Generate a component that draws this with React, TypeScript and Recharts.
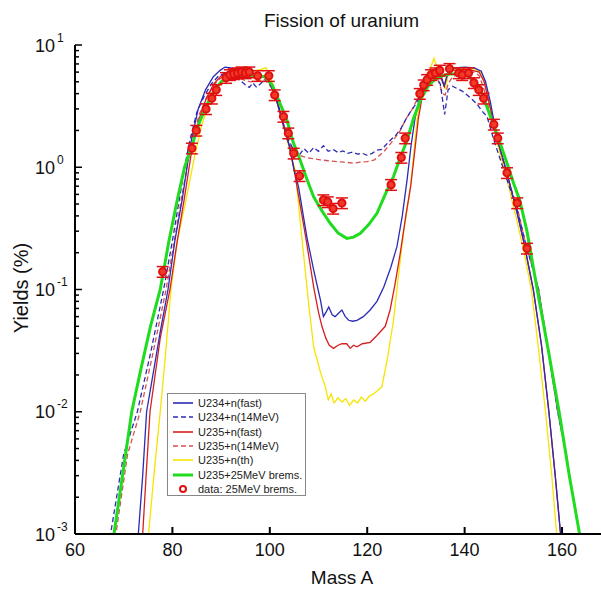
import React from 'react';
import { ComposedChart, Line, Scatter, XAxis, YAxis, ErrorBar } from 'recharts';

const FONT = '"Liberation Sans", Arial, Helvetica, sans-serif';

// ---- curves: [mass A, yield %] ----
const u234Fast: [number, number][] = [
  [72.6,0.0008],[73.0,0.001],[73.9,0.003],[74.7,0.01],[76.0,0.02],[77.5,0.045],[79.1,0.1],[80.5,0.25],[82.0,0.54],[83.0,1.0],[83.8,1.6],[85.3,3.0],[86.8,4.3],[88.4,5.5],[89.8,6.2],[90.8,6.6],[92.0,6.5],[93.5,6.2],[95.0,6.0],[96.5,5.9],[98.0,5.7],[99.5,5.3],[100.5,4.4],[101.5,3.4],[102.5,2.5],[104.0,1.5],[105.0,0.95],[105.9,0.69],[107.6,0.27],[109.0,0.145],[110.4,0.082],[111.0,0.06],[111.6,0.066],[112.1,0.072],[112.8,0.062],[113.4,0.06],[114.1,0.064],[114.8,0.068],[115.5,0.06],[116.2,0.056],[117.0,0.055],[117.9,0.056],[119.2,0.06],[120.6,0.068],[122.0,0.08],[123.4,0.105],[124.8,0.15],[126.1,0.224],[127.2,0.4],[128.2,0.8],[129.0,1.5],[129.8,2.5],[130.7,3.6],[131.9,5.0],[133.0,5.8],[134.0,6.2],[135.0,5.9],[135.8,4.6],[136.6,6.0],[138.0,6.5],[140.0,6.6],[142.0,6.5],[143.4,6.1],[144.3,5.0],[145.3,3.4],[146.7,1.7],[148.7,0.9],[150.8,0.42],[152.1,0.25],[154.1,0.1],[155.8,0.035],[157.3,0.01],[158.6,0.003],[159.7,0.001],[160.0,0.0008],
];
const u234Mev14: [number, number][] = [
  [67.0,0.0008],[67.3,0.001],[70.0,0.0045],[72.8,0.01],[75.5,0.03],[78.2,0.1],[80.0,0.25],[81.4,0.54],[82.5,1.0],[83.5,1.6],[85.0,2.8],[86.5,3.8],[88.0,4.8],[89.5,5.6],[91.0,5.9],[92.5,5.7],[94.0,5.1],[95.0,4.7],[95.8,4.5],[96.5,4.9],[97.3,4.5],[98.5,5.0],[99.5,5.3],[100.5,4.5],[101.5,3.5],[102.5,2.5],[103.5,1.8],[105.0,1.35],[106.0,1.25],[107.0,1.42],[108.0,1.3],[109.0,1.45],[110.0,1.35],[111.0,1.5],[112.0,1.35],[113.0,1.4],[114.0,1.32],[115.0,1.36],[116.0,1.3],[117.0,1.33],[118.0,1.28],[119.0,1.3],[120.0,1.25],[121.0,1.3],[122.0,1.38],[123.0,1.4],[124.0,1.55],[125.0,1.7],[126.0,1.85],[127.0,2.1],[128.0,2.5],[129.0,2.9],[130.0,3.3],[131.0,4.0],[132.0,4.8],[133.0,5.4],[134.0,5.6],[135.0,4.8],[135.9,2.7],[136.6,4.3],[137.5,4.6],[138.5,4.4],[139.5,4.2],[140.5,3.9],[141.5,3.6],[142.5,3.3],[143.5,2.9],[144.6,2.6],[146.0,1.67],[148.7,0.79],[150.8,0.45],[152.5,0.24],[155.2,0.1],[157.0,0.035],[159.1,0.01],[160.2,0.006],[161.1,0.004],
];
const u235Fast: [number, number][] = [
  [73.6,0.0008],[73.9,0.001],[74.6,0.003],[75.4,0.01],[77.5,0.04],[79.5,0.1],[81.0,0.25],[82.4,0.54],[84.0,1.4],[85.5,2.5],[87.0,3.7],[88.5,4.8],[90.0,5.6],[92.0,5.9],[94.0,5.9],[96.0,5.8],[98.0,5.6],[99.5,5.3],[100.5,4.4],[101.5,3.4],[102.5,2.4],[104.0,1.5],[105.2,0.85],[106.2,0.5],[107.5,0.25],[109.0,0.105],[110.0,0.065],[110.7,0.05],[111.5,0.04],[112.2,0.035],[113.1,0.033],[114.0,0.035],[114.8,0.036],[115.8,0.036],[116.5,0.033],[117.2,0.035],[117.9,0.034],[119.0,0.036],[120.6,0.037],[122.0,0.042],[123.7,0.05],[124.7,0.068],[125.7,0.11],[126.8,0.2],[128.0,0.42],[128.9,0.69],[129.8,1.4],[130.5,2.5],[131.3,3.8],[132.0,4.8],[133.0,5.5],[134.0,5.8],[135.0,5.6],[135.8,4.6],[136.5,5.8],[137.5,6.2],[139.0,6.3],[141.0,6.3],[143.0,6.0],[144.0,5.0],[145.0,3.4],[146.7,1.7],[148.7,0.9],[150.8,0.42],[152.1,0.25],[154.1,0.1],[155.8,0.034],[157.3,0.01],[158.6,0.003],[159.7,0.001],[160.0,0.0008],
];
const u235Mev14: [number, number][] = [
  [68.0,0.0008],[68.4,0.001],[70.8,0.0045],[73.4,0.01],[76.0,0.03],[78.7,0.1],[80.4,0.25],[81.8,0.54],[83.0,1.0],[84.0,1.6],[85.5,2.7],[87.0,3.7],[88.5,4.7],[90.0,5.4],[91.5,5.7],[93.0,5.6],[94.5,5.2],[96.0,5.0],[97.5,5.1],[99.0,5.2],[100.5,4.4],[101.5,3.4],[102.5,2.4],[103.5,1.7],[105.0,1.3],[106.9,1.22],[108.5,1.18],[110.4,1.15],[112.0,1.13],[113.8,1.11],[115.5,1.1],[117.2,1.08],[118.5,1.1],[120.0,1.11],[121.5,1.15],[123.4,1.34],[125.0,1.6],[126.8,2.0],[128.0,2.5],[129.5,3.1],[130.5,3.8],[131.5,4.6],[132.5,5.2],[133.5,5.6],[134.5,5.2],[135.5,4.0],[136.0,3.9],[136.6,4.8],[137.5,5.5],[139.0,5.8],[140.5,5.9],[142.0,6.0],[143.0,5.6],[144.0,4.3],[145.0,3.0],[146.5,1.8],[148.7,0.85],[150.8,0.47],[152.5,0.24],[155.2,0.1],[157.0,0.035],[159.1,0.01],[160.2,0.006],[161.1,0.004],
];
const u235Thermal: [number, number][] = [
  [74.9,0.0008],[75.1,0.001],[76.2,0.003],[77.5,0.01],[78.6,0.03],[79.7,0.1],[81.0,0.25],[82.8,0.54],[84.5,1.2],[86.0,2.2],[87.5,3.3],[89.0,4.4],[90.5,5.2],[92.0,5.6],[94.0,5.8],[96.0,6.0],[98.0,6.3],[99.2,6.5],[100.3,5.2],[101.3,3.9],[102.3,2.7],[103.5,1.7],[104.5,1.2],[105.2,0.95],[106.0,0.45],[106.9,0.2],[108.0,0.075],[109.0,0.034],[110.4,0.021],[111.4,0.016],[112.0,0.0125],[112.6,0.014],[113.2,0.0118],[114.0,0.013],[114.8,0.012],[115.6,0.0128],[116.4,0.0113],[117.2,0.0125],[118.0,0.0118],[118.8,0.0132],[119.6,0.0122],[120.5,0.0135],[121.3,0.014],[122.2,0.015],[123.0,0.016],[124.2,0.028],[125.4,0.056],[126.5,0.14],[127.5,0.3],[128.9,0.69],[130.2,2.4],[131.0,3.6],[132.0,5.0],[133.0,6.5],[133.7,7.8],[134.5,6.3],[135.3,5.2],[136.0,4.4],[136.7,5.8],[138.0,6.4],[140.0,6.5],[142.0,6.4],[143.5,5.9],[144.6,4.3],[145.5,2.8],[146.5,1.7],[148.5,0.85],[150.5,0.4],[152.0,0.22],[153.7,0.1],[155.2,0.032],[156.6,0.01],[157.9,0.003],[158.9,0.001],[159.2,0.0008],
];
const u235Brems: [number, number][] = [
  [67.7,0.0008],[68.0,0.001],[70.0,0.0035],[71.65,0.01],[73.5,0.022],[75.5,0.05],[77.5,0.1],[79.3,0.25],[81.0,0.54],[82.5,1.0],[84.0,1.5],[85.5,2.3],[87.0,3.2],[88.5,4.2],[90.0,5.0],[91.5,5.5],[93.0,5.6],[95.0,5.7],[97.0,5.6],[99.0,5.5],[100.5,4.7],[102.0,3.4],[103.5,2.44],[104.8,1.6],[106.2,1.15],[107.6,0.8],[109.0,0.574],[110.7,0.44],[112.4,0.348],[114.0,0.29],[115.8,0.262],[117.2,0.268],[118.6,0.288],[120.3,0.34],[122.0,0.42],[123.7,0.6],[125.4,0.84],[126.8,1.2],[128.2,1.67],[129.5,2.5],[131.0,3.6],[132.5,4.6],[134.0,5.3],[135.5,5.6],[137.0,5.8],[139.0,5.8],[141.0,5.5],[143.0,4.6],[145.3,2.6],[147.0,1.7],[148.7,1.08],[150.0,0.75],[151.3,0.54],[152.8,0.3],[154.9,0.1],[157.3,0.03],[159.4,0.01],[161.5,0.003],[163.6,0.001],[163.9,0.0008],
];

// ---- measured data (25 MeV brems.) ----
const dataMass = [78.0,84.0,84.9,86.9,88.1,89.0,91.0,91.8,92.6,93.4,94.2,95.0,95.8,97.5,99.8,101.0,102.8,103.8,104.9,106.1,111.0,111.9,113.0,114.8,124.9,127.0,127.8,130.8,131.6,132.3,133.1,134.0,134.9,136.9,138.8,139.5,140.8,141.9,142.9,143.9,146.0,146.8,148.7,150.8,152.8];
const dataYield = [0.14,1.43,2.0,3.0,3.66,4.3,5.4,5.7,5.8,5.9,6.0,5.9,6.0,5.6,5.6,3.9,2.6,1.9,1.3,0.85,0.54,0.52,0.46,0.51,0.72,1.2,1.73,4.0,4.7,5.2,5.7,5.9,6.2,6.4,5.9,5.7,5.9,4.9,4.3,3.66,2.24,1.73,0.9,0.51,0.217];
const dataRelErr = 0.1;

// ---- axes ----
const xTicks = [60, 80, 100, 120, 140, 160];
const xTopTicks = [80, 100, 120, 140, 160];
const decades = [0.001, 0.01, 0.1, 1];
const yTicks = [...decades.flatMap((d) => [1, 2, 3, 4, 5, 6, 7, 8, 9].map((m) => +(m * d).toPrecision(3))), 10];

const SERIES = [
  { name: 'U234+n(fast)', pts: u234Fast, color: '#2b2bb5', dash: undefined as string | undefined, width: 1.3 },
  { name: 'U234+n(14MeV)', pts: u234Mev14, color: '#2b2bb5', dash: '5 3', width: 1.3 },
  { name: 'U235+n(fast)', pts: u235Fast, color: '#d42020', dash: undefined, width: 1.3 },
  { name: 'U235+n(14MeV)', pts: u235Mev14, color: '#d85050', dash: '5 3', width: 1.3 },
  { name: 'U235+n(th)', pts: u235Thermal, color: '#f7e400', dash: undefined, width: 1.3 },
  { name: 'U235+25MeV brems.', pts: u235Brems, color: '#1fdc1f', dash: undefined, width: 3 },
];
const DRAW_ORDER = [4, 3, 2, 1, 0, 5];

const toPts = (arr: [number, number][]) => arr.map(([a, y]) => ({ a, y }));
const dataPts = dataMass.map((a, i) => ({ a, y: dataYield[i], err: dataYield[i] * dataRelErr }));

function XTick(props: any) {
  const { x, y, payload } = props;
  return (
    <g>
      <line x1={x} y1={y} x2={x} y2={y - 7} stroke="#000" strokeWidth={2} />
      <text x={x} y={y + 22} textAnchor="middle" fontSize={18} fontFamily={FONT} fill="#111">
        {payload.value}
      </text>
    </g>
  );
}

function TopTick(props: any) {
  const { x, y } = props;
  return <line x1={x} y1={y} x2={x} y2={y + 7} stroke="#000" strokeWidth={2} />;
}

function YTick(props: any) {
  const { x, y, payload } = props;
  const lg = Math.log10(payload.value);
  const exp = Math.round(lg);
  const major = Math.abs(lg - exp) < 1e-6;
  return (
    <g>
      <line x1={x} y1={y} x2={x + (major ? 7 : 4)} y2={y} stroke="#000" strokeWidth={1.5} />
      {major && (
        <text x={x - 40} y={y + 6.5} fontSize={18} fontFamily={FONT} fill="#111">
          10
          <tspan dx={2} dy={-10} fontSize={12}>
            {exp}
          </tspan>
        </text>
      )}
    </g>
  );
}

function Marker(props: any) {
  const { cx, cy } = props;
  return <circle cx={cx} cy={cy} r={3.6} fill="#f23a2a" stroke="#e01010" strokeWidth={2} />;
}

function LegendBox() {
  return (
    <div
      style={{
        position: 'absolute', left: 167, top: 393, width: 139, height: 103,
        border: '1px solid #888', background: '#fff', fontFamily: FONT, fontSize: 11, color: '#222',
        boxSizing: 'border-box', paddingTop: 2,
      }}
    >
      {SERIES.map((s) => (
        <div key={s.name} style={{ height: 14.3, display: 'flex', alignItems: 'center' }}>
          <svg width={30} height={10} style={{ flex: 'none' }}>
            <line x1={5} y1={5} x2={25} y2={5} stroke={s.color} strokeWidth={s.width === 3 ? 3 : 1.6} strokeDasharray={s.dash ? '5 3' : undefined} />
          </svg>
          <span style={{ whiteSpace: 'nowrap' }}>{s.name}</span>
        </div>
      ))}
      <div style={{ height: 14.3, display: 'flex', alignItems: 'center' }}>
        <svg width={30} height={10} style={{ flex: 'none' }}>
          <circle cx={15} cy={5} r={3} fill="none" stroke="#e01010" strokeWidth={2} />
        </svg>
        <span style={{ whiteSpace: 'nowrap' }}>data: 25MeV brems.</span>
      </div>
    </div>
  );
}

export default function App() {
  return (
    <div style={{ position: 'absolute', left: 0, top: 0, width: 601, height: 591, background: '#fff', overflow: 'hidden' }}>
      <ComposedChart width={601} height={591} margin={{ top: 45, right: 0, bottom: 0, left: 0 }}>
        <XAxis
          xAxisId="bottom" type="number" dataKey="a" domain={[60, 168]} allowDataOverflow
          ticks={xTicks} interval={0} tickLine={false} tickSize={0} tickMargin={0} height={57}
          axisLine={{ stroke: '#000', strokeWidth: 2 }} tick={<XTick />}
        />
        <XAxis
          xAxisId="top" orientation="top" type="number" dataKey="a" domain={[60, 168]} allowDataOverflow
          ticks={xTopTicks} interval={0} tickLine={false} tickSize={0} tickMargin={0} height={0}
          axisLine={{ stroke: '#000', strokeWidth: 2 }} tick={<TopTick />}
        />
        <YAxis
          yAxisId="left" type="number" scale="log" domain={[0.001, 10]} allowDataOverflow
          ticks={yTicks} interval={0} tickLine={false} tickSize={0} tickMargin={0} width={75}
          axisLine={{ stroke: '#000', strokeWidth: 2 }} tick={<YTick />}
        />
        {DRAW_ORDER.map((i) => {
          const s = SERIES[i];
          return (
            <Line
              key={s.name} name={s.name} data={toPts(s.pts)} dataKey="y" xAxisId="bottom" yAxisId="left"
              type="linear" stroke={s.color} strokeWidth={s.width} strokeDasharray={s.dash}
              dot={false} activeDot={false} isAnimationActive={false}
            />
          );
        })}
        <Scatter
          name="data: 25MeV brems." data={dataPts} dataKey="y" xAxisId="bottom" yAxisId="left"
          shape={<Marker />} isAnimationActive={false}
        >
          <ErrorBar dataKey="err" direction="y" width={6} stroke="#e01010" strokeWidth={1.5} />
        </Scatter>
      </ComposedChart>
      <div style={{ position: 'absolute', left: 0, width: 683, top: 11, textAlign: 'center', fontFamily: FONT, fontSize: 19, lineHeight: '19px', color: '#111' }}>
        Fission of uranium
      </div>
      <div style={{ position: 'absolute', left: 0, width: 684, top: 568, textAlign: 'center', fontFamily: FONT, fontSize: 19, lineHeight: '19px', color: '#111' }}>
        Mass A
      </div>
      <div
        style={{
          position: 'absolute', left: 21, top: 288, transform: 'translate(-50%, -50%) rotate(-90deg)',
          fontFamily: FONT, fontSize: 20, lineHeight: '20px', whiteSpace: 'nowrap', color: '#111',
        }}
      >
        Yields (%)
      </div>
      <LegendBox />
    </div>
  );
}
